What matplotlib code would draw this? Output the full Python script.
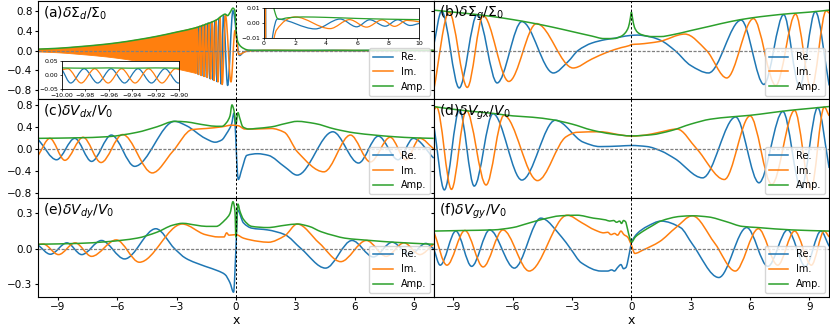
import numpy as np
import matplotlib
matplotlib.use("Agg")
import matplotlib.pyplot as plt
from matplotlib.path import Path
from matplotlib.patches import PathPatch
from matplotlib.lines import Line2D

C_RE, C_IM, C_AMP = "#1f77b4", "#ff7f0e", "#2ca02c"

# ---------------- data ----------------
x_ticks = [-9, -6, -3, 0, 3, 6, 9]
legend_labels = ["Re.", "Im.", "Amp."]
titles = [r"(a)$\delta\Sigma_d/\Sigma_0$", r"(b)$\delta\Sigma_g/\Sigma_0$",
          r"(c)$\delta V_{dx}/V_0$", r"(d)$\delta V_{gx}/V_0$",
          r"(e)$\delta V_{dy}/V_0$", r"(f)$\delta V_{gy}/V_0$"]

# (a) amplitude; for x <= -2 the Re/Im oscillation is too dense to resolve -> drawn as a band
amp_a_x = [-10, -9, -8, -7, -6, -5, -4, -3, -2, -1.5, -1.0, -0.7, -0.55, -0.42, -0.3, -0.15, -0.05,
           0.0, 0.05, 0.12, 0.25, 0.4, 0.55, 0.7, 0.85, 1.0, 1.5, 2.5, 4.0, 6.0, 8.0, 10.0]
amp_a_y = [0.028, 0.045, 0.075, 0.11, 0.155, 0.215, 0.285, 0.37, 0.46, 0.53, 0.61, 0.70, 0.73, 0.70,
           0.76, 0.85, 0.80, 0.45, 0.25, 0.15, 0.08, 0.04, 0.015, 0.007, 0.003, 0.0022, 0.0032,
           0.0038, 0.0035, 0.0028, 0.0023, 0.002]
re_a_x = [-2.00, -1.93, -1.86, -1.79, -1.72, -1.645, -1.57, -1.49, -1.41, -1.325, -1.24, -1.15,
          -1.06, -0.96, -0.86, -0.75, -0.63, -0.42, -0.15, 0.18, 0.4, 0.6, 0.85, 3.3, 4.9, 5.96,
          6.8, 7.8, 8.6, 9.4, 10.0]
re_a_y = [0.46, -0.47, 0.48, -0.49, 0.50, -0.51, 0.52, -0.53, 0.55, -0.56, 0.57, -0.59, 0.60,
          -0.62, 0.64, -0.67, 0.70, -0.70, 0.80, -0.10, -0.03, -0.006, 0.0024, -0.0042, 0.0024,
          -0.0028, 0.0019, -0.0024, 0.0019, -0.0019, -0.0005]
im_a_x = [-2.035, -1.965, -1.895, -1.825, -1.755, -1.68, -1.61, -1.53, -1.45, -1.37, -1.28,
          -1.195, -1.105, -1.01, -0.91, -0.805, -0.69, -0.53, -0.25, -0.05, 0.15, 0.5, 0.8, 2.0,
          4.25, 5.5, 6.6, 7.6, 8.4, 9.2, 10.0]
im_a_y = [-0.46, 0.47, -0.48, 0.49, -0.50, 0.51, -0.52, 0.53, -0.54, 0.55, -0.57, 0.58, -0.60,
          0.61, -0.63, 0.66, -0.68, 0.72, -0.63, 0.40, -0.08, -0.02, -0.005, 0.0038, -0.004,
          0.002, -0.003, 0.0018, -0.0025, 0.0015, 0.0005]
# (a) far field, lower-left inset
re_far_x = [-10.0, -9.9925, -9.981, -9.9695, -9.958, -9.9465, -9.935, -9.9235, -9.912, -9.9005, -9.89]
re_far_y = [0.022, -0.027, 0.024, -0.027, 0.024, -0.027, 0.024, -0.027, 0.024, -0.027, 0.01]
im_far_x = [-10.0, -9.995, -9.9835, -9.972, -9.9605, -9.949, -9.9375, -9.926, -9.9145, -9.903, -9.89]
im_far_y = [0.020, 0.024, -0.027, 0.024, -0.027, 0.024, -0.027, 0.024, -0.027, 0.024, -0.01]
amp_far_x = [-10.0, -9.98, -9.96, -9.94, -9.92, -9.90]
amp_far_y = [0.027, 0.026, 0.027, 0.026, 0.027, 0.026]

# (b)
amp_b_x = [-10, -9, -8, -7, -6, -5, -4, -3, -2, -1.4, -0.9, -0.5, -0.3, -0.15, -0.05, 0.0, 0.05,
           0.15, 0.3, 0.5, 1.0, 1.5, 2.0, 3.0, 4.0, 5.0, 6.0, 7.0, 8.0, 9.0, 10.0]
amp_b_y = [0.81, 0.77, 0.73, 0.68, 0.62, 0.55, 0.47, 0.38, 0.29, 0.24, 0.24, 0.29, 0.36, 0.47,
           0.66, 0.77, 0.66, 0.47, 0.37, 0.32, 0.28, 0.28, 0.31, 0.40, 0.49, 0.58, 0.65, 0.70,
           0.74, 0.77, 0.81]
re_b_x = [-10.0, -9.6, -8.71, -7.8, -6.79, -5.54, -3.95, -3.2, -2.7, -2.0, -1.3, -0.8, -0.3, 0.3,
          1.0, 1.5, 2.2, 3.0, 3.9, 5.55, 6.7, 7.7, 8.5, 9.3, 10.0]
re_b_y = [0.1, 0.79, -0.75, 0.72, -0.65, 0.58, -0.45, -0.22, 0.0, 0.15, 0.22, 0.25, 0.29, 0.31,
          0.27, 0.20, 0.0, -0.30, -0.45, 0.61, -0.68, 0.72, -0.72, 0.78, -0.70]
im_b_x = [-10.0, -9.22, -8.3, -7.5, -6.2, -4.8, -2.95, -2.0, -1.2, -0.5, -0.1, 0.0, 0.4, 1.4,
          2.7, 3.8, 4.82, 6.17, 7.3, 8.3, 9.1, 9.85, 10.0]
im_b_y = [-0.80, 0.77, -0.74, 0.70, -0.62, 0.54, -0.35, -0.17, -0.03, 0.06, 0.10, 0.12, 0.13,
          0.18, 0.33, 0.0, -0.55, 0.64, -0.70, 0.73, -0.77, 0.80, 0.75]

# (c)
amp_c_x = [-10, -8, -6.5, -5, -4, -3.1, -2.5, -2.0, -1.5, -1.0, -0.7, -0.47, -0.3, -0.2, -0.1,
           0.0, 0.1, 0.2, 0.35, 0.65, 1.0, 1.8, 2.5, 3.1, 4.0, 5.0, 6.0, 7.0, 8.0, 9.0, 10.0]
amp_c_y = [0.19, 0.20, 0.22, 0.30, 0.40, 0.50, 0.49, 0.46, 0.43, 0.41, 0.41, 0.48, 0.60, 0.80,
           0.70, 0.45, 0.66, 0.55, 0.40, 0.36, 0.37, 0.40, 0.46, 0.50, 0.46, 0.36, 0.29, 0.25,
           0.22, 0.20, 0.19]
re_c_x = [-10.0, -9.07, -8.15, -7.3, -6.3, -5.12, -3.1, -2.5, -1.55, -1.05, -0.72, -0.47, -0.22,
          -0.1, 0.12, 0.3, 0.55, 1.1, 1.64, 2.47, 3.1, 4.9, 6.2, 7.2, 8.2, 8.97, 10.0]
re_c_y = [0.17, -0.20, 0.19, -0.23, 0.25, -0.32, 0.50, 0.42, 0.19, 0.12, 0.16, 0.28, 0.45, 0.65,
          -0.56, -0.37, -0.12, -0.09, -0.12, -0.33, -0.48, 0.31, -0.26, 0.23, -0.20, 0.19, -0.17]
im_c_x = [-10.0, -9.41, -8.65, -7.73, -6.82, -5.73, -4.23, -3.2, -2.22, -1.5, -0.72, -0.22, 0.12,
          0.45, 1.0, 1.79, 2.45, 3.12, 4.45, 5.79, 6.8, 7.8, 8.6, 9.3, 10.0]
im_c_y = [-0.12, 0.19, -0.21, 0.21, -0.25, 0.26, -0.44, -0.05, 0.35, 0.37, 0.40, 0.43, 0.42,
          0.36, 0.36, 0.37, 0.30, -0.06, -0.42, 0.25, -0.24, 0.21, -0.20, 0.19, 0.0]

# (d)
amp_d_x = [-10, -9, -8, -7, -6, -5, -4, -3, -2, -1, 0, 1, 2, 3, 4, 5, 6, 7, 8, 9, 10]
amp_d_y = [0.77, 0.72, 0.68, 0.645, 0.60, 0.575, 0.53, 0.45, 0.34, 0.27, 0.235, 0.255, 0.33,
           0.45, 0.54, 0.58, 0.61, 0.655, 0.70, 0.735, 0.77]
re_d_x = [-10.0, -9.46, -8.7, -7.95, -7.0, -5.54, -3.85, -2.43, -1.6, -0.6, 0.0, 0.8, 1.5, 2.2,
          3.6, 5.27, 6.45, 7.66, 8.58, 9.42, 10.0]
re_d_y = [0.45, -0.75, 0.71, -0.68, 0.64, -0.57, 0.52, 0.12, 0.04, 0.05, 0.06, 0.04, -0.04,
          -0.18, -0.53, 0.58, -0.62, 0.68, -0.72, 0.75, -0.35]
im_d_x = [-10.0, -9.85, -9.1, -8.35, -7.35, -6.45, -4.75, -3.3, -2.77, -1.6, -0.5, 0.0, 0.7, 1.4,
          2.3, 3.3, 4.7, 6.0, 7.1, 8.25, 9.08, 9.75, 10.0]
im_d_y = [0.70, 0.76, -0.74, 0.70, -0.66, 0.61, -0.58, 0.22, 0.30, 0.31, 0.25, 0.23, 0.25, 0.30,
          0.36, 0.0, -0.56, 0.60, -0.65, 0.70, -0.74, 0.76, 0.60]

# (e)
amp_e_x = [-10, -8, -6.5, -5, -4, -3.2, -2.7, -2.0, -1.5, -1.0, -0.55, -0.3, -0.15, -0.05, 0.0,
           0.1, 0.2, 0.38, 0.8, 1.6, 2.5, 3.1, 3.7, 4.3, 5.0, 5.5, 6.8, 8.0, 10.0]
amp_e_y = [0.038, 0.045, 0.06, 0.09, 0.14, 0.20, 0.216, 0.20, 0.19, 0.19, 0.245, 0.30, 0.40,
           0.32, 0.10, 0.38, 0.32, 0.25, 0.19, 0.18, 0.20, 0.21, 0.19, 0.145, 0.11, 0.09, 0.07,
           0.055, 0.038]
re_e_x = [-10.0, -9.38, -8.55, -7.8, -6.8, -5.63, -4.05, -3.1, -2.55, -1.55, -0.88, -0.55, -0.3,
          -0.12, 0.0, 0.08, 0.38, 0.8, 1.6, 2.47, 3.3, 4.53, 5.87, 6.95, 7.9, 8.8, 9.6, 10.0]
re_e_y = [0.03, -0.047, 0.05, -0.05, 0.07, -0.087, 0.17, 0.0, -0.08, -0.15, -0.19, -0.22, -0.29,
          -0.37, 0.0, 0.33, 0.22, 0.175, 0.16, 0.12, 0.0, -0.165, 0.07, -0.07, 0.055, -0.05,
          0.045, 0.0]
im_e_x = [-10.0, -9.75, -8.97, -8.13, -7.3, -6.05, -4.88, -2.72, -1.55, -0.88, -0.6, -0.47,
          -0.35, 0.0, 0.38, 1.13, 1.64, 2.47, 3.1, 4.2, 5.3, 6.6, 7.6, 8.5, 9.3, 10.0]
im_e_y = [0.035, 0.04, -0.05, 0.05, -0.065, 0.075, -0.115, 0.21, 0.12, 0.10, 0.10, 0.135, 0.115,
          0.12, 0.09, 0.063, 0.055, 0.11, 0.21, 0.05, -0.11, 0.07, -0.065, 0.05, -0.05, 0.04]

# (f)
amp_f_x = [-10, -8.5, -7, -6, -5.25, -4.5, -3.58, -2.75, -1.92, -1.3, -1.1, -0.9, -0.75, -0.6,
           -0.5, -0.4, -0.3, -0.2, -0.1, 0.0, 0.2, 0.6, 1.0, 1.48, 2.48, 3.1, 3.9, 4.8, 5.6, 6.4,
           8.1, 10]
amp_f_y = [0.15, 0.155, 0.16, 0.18, 0.215, 0.25, 0.28, 0.285, 0.26, 0.245, 0.235, 0.24, 0.225,
           0.235, 0.215, 0.24, 0.23, 0.17, 0.10, 0.055, 0.10, 0.15, 0.19, 0.235, 0.275, 0.28,
           0.27, 0.23, 0.19, 0.18, 0.16, 0.15]
re_f_x = [-10.0, -9.67, -8.88, -8.08, -7.17, -5.92, -4.58, -3.53, -3.08, -2.53, -1.53, -1.2,
          -1.0, -0.86, -0.7, -0.53, -0.4, -0.28, -0.1, 0.0, 0.3, 0.8, 1.5, 2.48, 3.08, 4.42,
          5.83, 6.9, 7.9, 8.8, 9.58, 10.0]
re_f_y = [0.0, -0.14, 0.15, -0.15, 0.16, -0.165, 0.26, 0.10, 0.0, -0.12, -0.19, -0.19, -0.18,
          -0.19, -0.16, -0.135, -0.17, -0.16, -0.035, 0.05, 0.13, 0.19, 0.235, 0.18, 0.04,
          -0.245, 0.18, -0.15, 0.16, -0.15, 0.15, 0.02]
im_f_x = [-10.0, -9.33, -8.42, -7.5, -6.5, -5.17, -3.25, -2.5, -1.86, -1.4, -1.2, -1.03, -0.85,
          -0.7, -0.53, -0.38, -0.2, 0.0, 0.17, 0.6, 1.42, 2.25, 3.08, 4.2, 5.25, 6.42, 7.4, 8.25,
          9.1, 9.75, 10.0]
im_f_y = [0.15, -0.14, 0.155, -0.155, 0.16, -0.19, 0.285, 0.22, 0.16, 0.135, 0.14, 0.12, 0.13,
          0.115, 0.15, 0.12, 0.10, 0.03, -0.04, -0.01, 0.06, 0.18, 0.28, 0.05, -0.19, 0.17,
          -0.14, 0.15, -0.14, 0.15, 0.10]

row_ylims = [(-0.98, 1.0), (-0.9, 0.9), (-0.41, 0.43)]
row_yticks = [[-0.8, -0.4, 0.0, 0.4, 0.8], [-0.8, -0.4, 0.0, 0.4, 0.8], [-0.3, 0.0, 0.3]]


# ---------------- helpers ----------------
def bezier_verts(xs, ys):
    """monotone cubic (Fritsch-Butland) through the points, as Bezier control points"""
    xs = np.asarray(xs, float)
    ys = np.asarray(ys, float)
    h = np.diff(xs)
    s = np.diff(ys) / h
    m = np.empty(len(xs))
    m[0], m[-1] = s[0], s[-1]
    for i in range(1, len(xs) - 1):
        if s[i - 1] * s[i] <= 0:
            m[i] = 0.0
        else:
            w1, w2 = 2 * h[i] + h[i - 1], h[i] + 2 * h[i - 1]
            m[i] = (w1 + w2) / (w1 / s[i - 1] + w2 / s[i])
    verts = [(xs[0], ys[0])]
    for i in range(len(h)):
        verts += [(xs[i] + h[i] / 3, ys[i] + m[i] * h[i] / 3),
                  (xs[i + 1] - h[i] / 3, ys[i + 1] - m[i + 1] * h[i] / 3),
                  (xs[i + 1], ys[i + 1])]
    return verts


def draw_curve(ax, xs, ys, color, lw=1.1):
    verts = bezier_verts(xs, ys)
    codes = [Path.MOVETO] + [Path.CURVE4] * (len(verts) - 1)
    ax.add_patch(PathPatch(Path(verts, codes), fill=False, edgecolor=color, lw=lw,
                           joinstyle="round"))


def draw_band(ax, xs, ys, color):
    up = bezier_verts(xs, ys)
    down = [(x, -y) for x, y in reversed(up)]
    verts = up + down + [up[0]]
    codes = ([Path.MOVETO] + [Path.CURVE4] * (len(up) - 1) + [Path.LINETO]
             + [Path.CURVE4] * (len(down) - 1) + [Path.CLOSEPOLY])
    ax.add_patch(PathPatch(Path(verts, codes), facecolor=color, edgecolor=color, lw=0.6))


def decorate(ax, title):
    ax.axhline(0, color="gray", ls=(0, (2.5, 1.2)), lw=0.9, zorder=1.5)
    ax.axvline(0, color="k", ls=(0, (2.5, 2.0)), lw=0.7, zorder=1.5)
    ax.text(0.013, 0.965, title, transform=ax.transAxes, ha="left", va="top", fontsize=10,
            zorder=6)
    handles = [Line2D([], [], color=c, lw=1.1) for c in (C_RE, C_IM, C_AMP)]
    ax.legend(handles, legend_labels, loc="lower right", fontsize=7, borderaxespad=0.4)


# ---------------- figure ----------------
fig, axes = plt.subplots(3, 2, figsize=(8.3, 3.27), dpi=100, sharex=True, sharey="row")
fig.subplots_adjust(left=0.046, right=0.999, top=0.998, bottom=0.092, wspace=0, hspace=0)

for r in range(3):
    for c in range(2):
        ax = axes[r, c]
        ax.set_xlim(-10, 10)
        ax.set_ylim(*row_ylims[r])
        ax.set_yticks(row_yticks[r])
        ax.set_xticks(x_ticks)
        ax.tick_params(labelsize=7.5, length=2.5, width=0.8, pad=1.5)

# (a) -- dense Im oscillation shown as filled band
ax = axes[0, 0]
n_dense = sum(1 for v in amp_a_x if v <= -2)
draw_curve(ax, re_a_x, re_a_y, C_RE)
draw_band(ax, amp_a_x[:n_dense], amp_a_y[:n_dense], C_IM)
draw_curve(ax, im_a_x, im_a_y, C_IM)
draw_curve(ax, amp_a_x, amp_a_y, C_AMP)
decorate(ax, titles[0])

ins1 = ax.inset_axes([0.571, 0.626, 0.393, 0.303])
draw_curve(ins1, re_a_x, re_a_y, C_RE, lw=0.9)
draw_curve(ins1, im_a_x, im_a_y, C_IM, lw=0.9)
draw_curve(ins1, amp_a_x, amp_a_y, C_AMP, lw=0.9)
ins1.set_xlim(0, 10)
ins1.set_ylim(-0.01, 0.01)
ins1.set_xticks([0, 2, 4, 6, 8, 10])
ins1.set_yticks([-0.01, 0.0, 0.01])

ins2 = ax.inset_axes([0.06, 0.101, 0.296, 0.283])
draw_curve(ins2, re_far_x, re_far_y, C_RE, lw=0.9)
draw_curve(ins2, im_far_x, im_far_y, C_IM, lw=0.9)
draw_curve(ins2, amp_far_x, amp_far_y, C_AMP, lw=0.9)
ins2.set_xlim(-10, -9.9)
ins2.set_ylim(-0.05, 0.05)
ins2.set_xticks([-10.0, -9.98, -9.96, -9.94, -9.92, -9.90])
ins2.set_yticks([-0.05, 0.0, 0.05])
ins2.ticklabel_format(useOffset=False)
for ins in (ins1, ins2):
    ins.tick_params(labelsize=4.5, length=1.5, width=0.5, pad=1)
    for sp in ins.spines.values():
        sp.set_linewidth(0.6)

panels = [
    (axes[0, 1], re_b_x, re_b_y, im_b_x, im_b_y, amp_b_x, amp_b_y, titles[1]),
    (axes[1, 0], re_c_x, re_c_y, im_c_x, im_c_y, amp_c_x, amp_c_y, titles[2]),
    (axes[1, 1], re_d_x, re_d_y, im_d_x, im_d_y, amp_d_x, amp_d_y, titles[3]),
    (axes[2, 0], re_e_x, re_e_y, im_e_x, im_e_y, amp_e_x, amp_e_y, titles[4]),
    (axes[2, 1], re_f_x, re_f_y, im_f_x, im_f_y, amp_f_x, amp_f_y, titles[5]),
]
for ax, rx, ry, ix, iy, ax_, ay, t in panels:
    draw_curve(ax, rx, ry, C_RE)
    draw_curve(ax, ix, iy, C_IM)
    draw_curve(ax, ax_, ay, C_AMP)
    decorate(ax, t)

for ax in axes[2]:
    ax.set_xlabel("x", fontsize=9, labelpad=1)

fig.savefig("out.png", dpi=100)
